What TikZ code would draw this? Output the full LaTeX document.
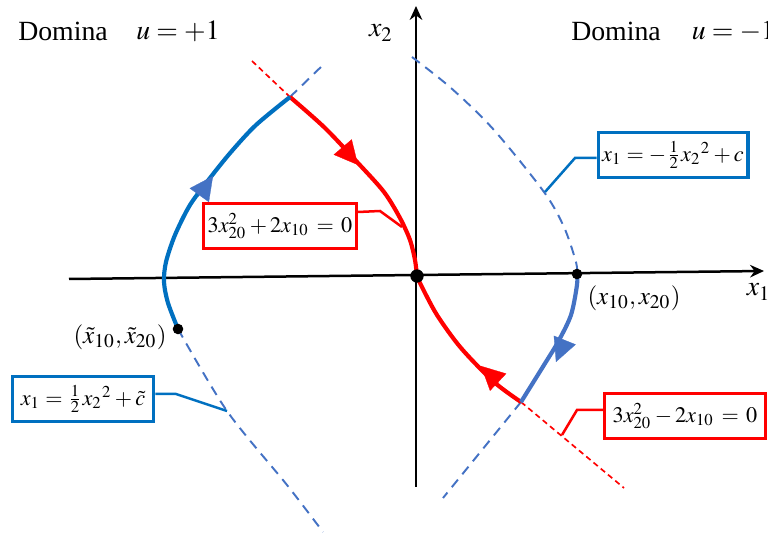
\documentclass[tikz,border=0pt]{standalone}
\usepackage{amsmath}
\usepackage{mathptmx}
\usepackage[no-math]{fontspec}
\setmainfont{Liberation Serif}
\usetikzlibrary{arrows.meta,calc}
\definecolor{bdark}{HTML}{0070C0}
\definecolor{blight}{HTML}{4472C4}
\definecolor{rr}{HTML}{FF0000}
\tikzset{
 axis/.style={line width=0.9pt, -{Stealth[length=5pt,width=4.5pt]}},
 traj/.style={line width=1.5pt},
 bdash/.style={blight, line width=0.7pt, dash pattern=on 3.5pt off 2.5pt},
 rdash/.style={rr, line width=0.6pt, dash pattern=on 2pt off 1.4pt},
 eqbox/.style={draw, line width=1.1pt, fill=white, inner sep=1.5pt, font=\footnotesize, minimum height=16.5pt},
 lead/.style={line width=0.9pt},
 dotS/.style={circle, fill=black, inner sep=0pt, minimum size=3.8pt},
 dotL/.style={circle, fill=black, inner sep=0pt, minimum size=4.8pt},
 tiph/.style={-{Triangle[length=8.5pt,width=8.5pt]}, line width=0.1pt}
}
\begin{document}
\begin{tikzpicture}[x=0.36pt,y=-0.36pt]
\useasboundingbox (0,0) rectangle (768,535);
% axes
\coordinate (xs) at (69,279);
\coordinate (xe) at (764,271);
\coordinate (ys) at (416,487);
\coordinate (ye) at (416,6);
\draw[axis] (xs) -- (xe);
\draw[axis] (ys) -- (ye);
\node (lx2) at (381,33) {$x_2$};
\node[anchor=west] (lx1) at (737,292) {$x_1$};
% titles
\node (d1) at (63,31) {Domina};
\node (u1) at (178,31) {$u=+1$};
\node (d2) at (616,31) {Domina};
\node[anchor=west] (u2) at (682,31) {$u=-1$};
% dashed continuations
\draw[rdash] (252,61) -- (290,97);
\draw[bdash] (290,97) -- (323,65);
\draw[rdash] (521,402) -- (624,488);
\draw[bdash] (521,402) -- (443,498);
\draw[bdash] plot[smooth] coordinates {(412,57) (451,88) (494,130) (544,192) (564,227) (576,262) (577,274)};
\draw[bdash] plot[smooth] coordinates {(178,329) (227,411) (287,485) (323,532)};
% red switching curve (solid)
\draw[traj, rr] plot[smooth] coordinates {(290,97) (325,128) (358,163) (384,192) (400,218) (410,240) (415,260) (417,276)};
\draw[traj, rr] plot[smooth] coordinates {(417,276) (421,285) (437,315) (461,348) (494,382) (521,402)};
% blue trajectories
\draw[traj, bdark] plot[smooth] coordinates {(290,97) (256,125) (231,152) (210,178) (190,205) (175,235) (166,262) (164,282) (168,303) (178,329)};
\draw[traj, blight] plot[smooth] coordinates {(577,274) (577,285) (571,315) (558,342) (544,365) (521,402)};
% arrowheads
\draw[tiph, rr] (341,145) -- (358,165);
\draw[tiph, rr] (499,383) -- (481,366);
\draw[tiph, blight] (198,197) -- (213,176);
\draw[tiph, blight] (564,342) -- (556,362);
% points
\node[dotL] (O) at (417,276) {};
\node[dotS] (P) at (577,274) {};
\node[dotS] (Q) at (178,329) {};
\node[font=\small] (lP) at (634,298) {$(x_{10},x_{20})$};
\node[font=\small] (lQ) at (120,337) {$(\tilde{x}_{10},\tilde{x}_{20})$};
% boxes
\node[eqbox, draw=rr, minimum width=54pt] (rU) at (280,226) {$3x_{20}^2 + 2x_{10} \,=\, 0$};
\node[eqbox, draw=rr, minimum width=58pt] (rL) at (685,416) {$3x_{20}^2 - 2x_{10} \,=\, 0$};
\node[eqbox, draw=bdark, minimum width=51.5pt] (bR) at (673,155) {$x_1 = -\tfrac{1}{2}x_2{}^2 + c$};
\node[eqbox, draw=bdark, minimum width=51pt] (bL) at (83,399) {$x_1 = \tfrac{1}{2}x_2{}^2 + \tilde{c}$};
% leaders
\coordinate (cU) at (402,227);
\coordinate (cL) at (562,435);
\coordinate (cR) at (545,192);
\coordinate (cB) at (227,411);
\draw[lead, rr] (rU.east |- 0,212) -- (380,211) -- (cU);
\draw[lead, rr] (rL.west |- 0,410) -- (577,410) -- (cL);
\draw[lead, bdark] (bR.west |- 0,158) -- (575,158) -- (cR);
\draw[lead, bdark] (bL.east |- 0,394) -- (176,394) -- (cB);
\end{tikzpicture}
\end{document}
